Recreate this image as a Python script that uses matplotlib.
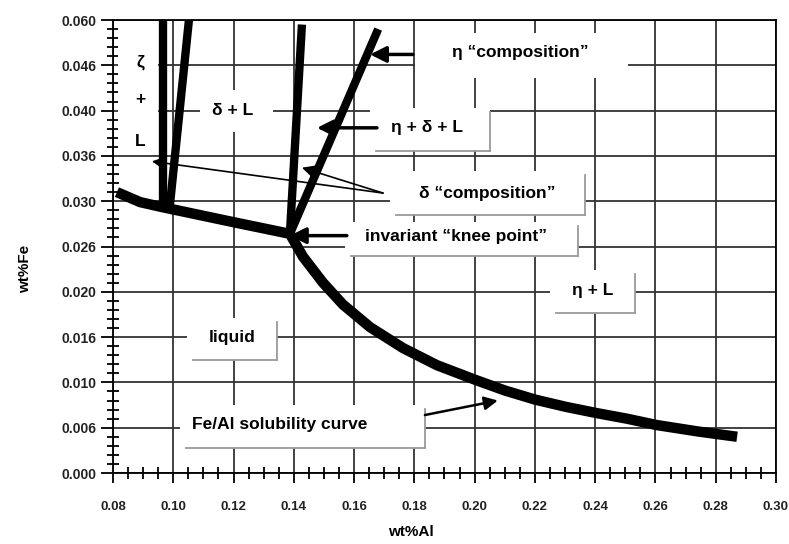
import matplotlib
matplotlib.use("Agg")
import matplotlib.pyplot as plt
from matplotlib.patches import Rectangle
from matplotlib.ticker import MultipleLocator

plt.rcParams['font.family'] = ['Liberation Sans', 'DejaVu Sans']

# Fe/Al solubility curve (wt%Al, wt%Fe)
sol_al = [0.0813, 0.0890, 0.0956, 0.1198, 0.1387, 0.1430, 0.1497, 0.1563,
          0.1653, 0.1762, 0.1875, 0.2001, 0.2101, 0.2201, 0.2303, 0.2407,
          0.2505, 0.2603, 0.2738, 0.2871]
sol_fe = [0.0310, 0.0299, 0.0294, 0.0277, 0.0264, 0.0239, 0.0210, 0.0186,
          0.0161, 0.0138, 0.0119, 0.0103, 0.0091, 0.0081, 0.0073, 0.0066,
          0.0060, 0.0053, 0.0046, 0.0040]

# phase boundaries
zeta_al = [0.0966, 0.0966]
zeta_fe = [0.0500, 0.0294]
delta_left_al = [0.1052, 0.0989]
delta_left_fe = [0.0500, 0.0296]
delta_right_al = [0.1427, 0.1387]
delta_right_fe = [0.0495, 0.0264]
eta_al = [0.1387, 0.1680]
eta_fe = [0.0264, 0.0490]

x_ticks = [0.08, 0.10, 0.12, 0.14, 0.16, 0.18, 0.20, 0.22, 0.24, 0.26, 0.28, 0.30]
x_tick_labels = ['0.08', '0.10', '0.12', '0.14', '0.16', '0.18', '0.20',
                 '0.22', '0.24', '0.26', '0.28', '0.30']
y_ticks = [0.000, 0.005, 0.010, 0.015, 0.020, 0.025, 0.030, 0.035, 0.040, 0.045, 0.050]
y_tick_labels = ['0.000', '0.006', '0.010', '0.016', '0.020', '0.026',
                 '0.030', '0.036', '0.040', '0.046', '0.060']

fig = plt.figure(figsize=(7.89, 5.44), dpi=100)
ax = fig.add_axes([0.1432, 0.1305, 0.8403, 0.8327])
ax.set_xlim(0.08, 0.30)
ax.set_ylim(0.0, 0.05)

ax.set_xticks(x_ticks)
ax.set_xticklabels(x_tick_labels, fontsize=9.5, fontweight='bold', color='#222222')
ax.set_yticks(y_ticks)
ax.set_yticklabels(y_tick_labels, fontsize=10, fontweight='bold', color='#222222')
ax.xaxis.set_minor_locator(MultipleLocator(0.005))
ax.yaxis.set_minor_locator(MultipleLocator(0.001))
ax.tick_params(axis='x', which='major', direction='out', length=7, width=1.3, pad=13)
ax.tick_params(axis='x', which='minor', direction='inout', length=9, width=1.3)
ax.tick_params(axis='y', which='major', direction='out', length=9, width=1.3, pad=3)
ax.tick_params(axis='y', which='minor', direction='inout', length=8, width=1.3)
for sp in ax.spines.values():
    sp.set_linewidth(1.3)
ax.grid(True, which='major', color='#333333', linewidth=1.3)
ax.set_axisbelow(True)

ax.set_xlabel('wt%Al', fontsize=11, fontweight='bold')
ax.xaxis.set_label_coords(0.45, -0.115)
ax.set_ylabel('wt%Fe', fontsize=11, fontweight='bold')
ax.yaxis.set_label_coords(-0.122, 0.45)


def label_box(x0, y0, x1, y1, shadow=True):
    ax.add_patch(Rectangle((x0, y0), x1 - x0, y1 - y0, facecolor='white',
                           edgecolor='none', zorder=2))
    if shadow:
        ax.plot([x0 + 0.002, x1], [y0, y0], color='#9a9a9a', lw=1.3, zorder=2.5)
        ax.plot([x1, x1], [y0, y1 - 0.0004], color='#9a9a9a', lw=1.3, zorder=2.5)


txt = dict(fontsize=12.5, fontweight='bold', ha='center', va='center', zorder=6)

# text boxes
label_box(0.0817, 0.0357, 0.0950, 0.0498, shadow=False)
ax.text(0.0890, 0.0453, 'ζ', **txt)
ax.text(0.0890, 0.0412, '+', **txt)
ax.text(0.0890, 0.0366, 'L', **txt)

label_box(0.1089, 0.0376, 0.1331, 0.0423, shadow=False)
ax.text(0.1198, 0.0400, 'δ + L', **txt)

label_box(0.1802, 0.0436, 0.2509, 0.0486, shadow=False)
ax.text(0.2150, 0.0464, 'η “composition”', **txt)

label_box(0.1653, 0.0355, 0.2051, 0.0403)
ax.text(0.1842, 0.0381, 'η + δ + L', **txt)

label_box(0.1719, 0.0285, 0.2366, 0.0333)
ax.text(0.2041, 0.0309, 'δ “composition”', **txt)

label_box(0.1570, 0.0240, 0.2343, 0.0277)
ax.text(0.1938, 0.0261, 'invariant “knee point”', **txt)

label_box(0.2250, 0.0177, 0.2532, 0.0224)
ax.text(0.2393, 0.0201, 'η + L', **txt)

label_box(0.1046, 0.0125, 0.1344, 0.0171)
ax.text(0.1195, 0.0150, 'liquid', **txt)

label_box(0.1022, 0.0028, 0.1835, 0.0075)
ax.text(0.1354, 0.0054, 'Fe/Al solubility curve', **txt)

# curves
ax.plot(sol_al, sol_fe, color='black', lw=7.5, solid_capstyle='butt',
        solid_joinstyle='round', zorder=4)
for xs, ys in [(zeta_al, zeta_fe), (delta_left_al, delta_left_fe),
               (delta_right_al, delta_right_fe), (eta_al, eta_fe)]:
    ax.plot(xs, ys, color='black', lw=6, solid_capstyle='butt', zorder=4)

# arrows
thick = dict(arrowstyle='-|>', lw=2.5, color='black', mutation_scale=24,
             shrinkA=0, shrinkB=0)
thin = dict(arrowstyle='-|>', lw=1.2, color='black', mutation_scale=18,
            shrinkA=0, shrinkB=0)
ax.annotate('', xy=(0.1653, 0.0462), xytext=(0.1795, 0.0462), arrowprops=thick, zorder=5)
ax.annotate('', xy=(0.1477, 0.0381), xytext=(0.1676, 0.0381), arrowprops=thick, zorder=5)
ax.annotate('', xy=(0.1387, 0.0262), xytext=(0.1576, 0.0262), arrowprops=thick, zorder=5)
ax.annotate('', xy=(0.0929, 0.0344), xytext=(0.1696, 0.0309), arrowprops=thin, zorder=5)
ax.annotate('', xy=(0.1427, 0.0337), xytext=(0.1696, 0.0309), arrowprops=thin, zorder=5)
ax.annotate('', xy=(0.2077, 0.0080), xytext=(0.1835, 0.0064),
            arrowprops=dict(arrowstyle='-|>', lw=1.8, color='black',
                            mutation_scale=20, shrinkA=0, shrinkB=0), zorder=5)

fig.savefig('out.png', dpi=100)
